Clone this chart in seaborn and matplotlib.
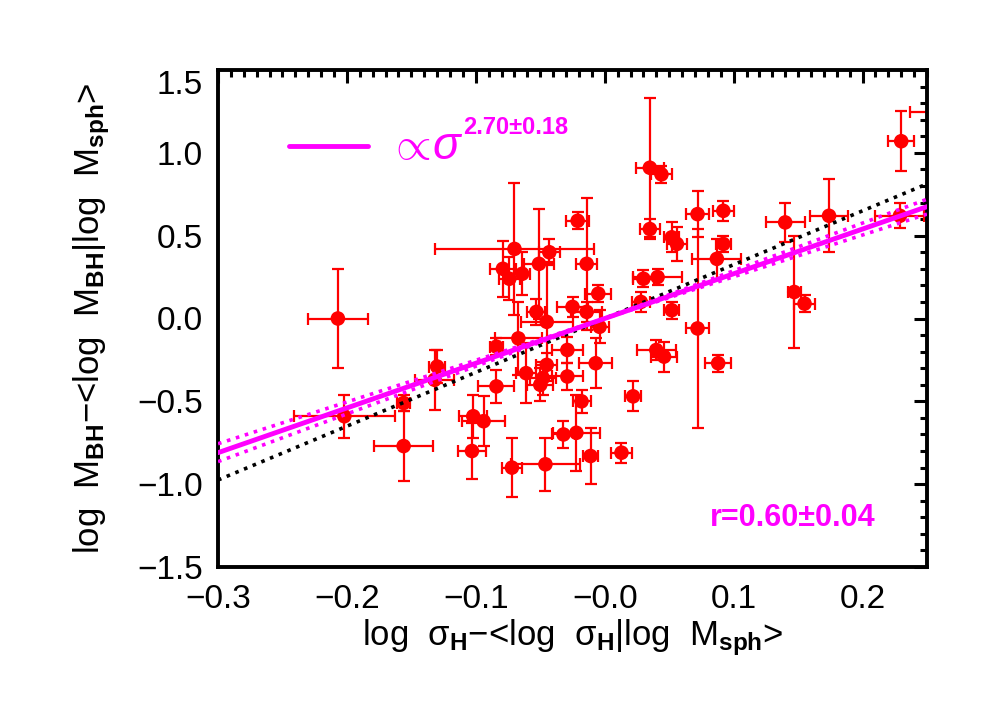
import numpy as np
import pandas as pd
import matplotlib
matplotlib.use("Agg")
import matplotlib.pyplot as plt
import matplotlib.transforms as mtransforms
from matplotlib.ticker import MultipleLocator
import seaborn as sns

# ---- data ----
x_vals = [-0.207, -0.202, -0.156, -0.156, -0.130, -0.132, -0.102, -0.094, -0.103, -0.072,
          -0.046, -0.084, -0.067, -0.079, -0.074, -0.070, -0.043, -0.064, -0.051, -0.053,
          -0.045, -0.045, -0.048, -0.050, -0.061, -0.084, -0.029, -0.029, -0.007, -0.018,
          -0.032, -0.022, -0.011, 0.013, 0.022, 0.040, 0.046, 0.088, 0.072, -0.004,
          -0.025, -0.014, -0.005, -0.014, -0.021, 0.035, 0.044, 0.035, 0.052, 0.056,
          0.072, 0.092, 0.092, 0.087, 0.030, 0.041, 0.028, 0.052, 0.140, 0.174,
          0.147, 0.155, 0.230, 0.229, 0.257]
y_vals = [0.00, -0.59, -0.51, -0.77, -0.29, -0.37, -0.59, -0.62, -0.80, -0.90,
          -0.88, -0.17, -0.12, 0.30, 0.24, 0.42, 0.40, 0.27, 0.33, 0.04,
          -0.02, -0.28, -0.36, -0.40, -0.33, -0.41, -0.19, -0.35, -0.27, -0.50,
          -0.70, -0.69, -0.83, -0.81, -0.47, -0.19, -0.23, -0.27, -0.06, -0.05,
          0.07, 0.04, 0.15, 0.33, 0.59, 0.91, 0.87, 0.54, 0.49, 0.45,
          0.63, 0.65, 0.45, 0.36, 0.24, 0.25, 0.10, 0.05, 0.58, 0.62,
          0.16, 0.09, 1.07, 0.62, 1.245]
x_err = [0.023, 0.039, 0.005, 0.023, 0.006, 0.015, 0.011, 0.017, 0.011, 0.008,
         0.027, 0.005, 0.018, 0.010, 0.008, 0.062, 0.008, 0.006, 0.012, 0.007,
         0.020, 0.008, 0.010, 0.010, 0.008, 0.014, 0.012, 0.012, 0.013, 0.007,
         0.009, 0.018, 0.006, 0.008, 0.006, 0.015, 0.010, 0.010, 0.009, 0.007,
         0.012, 0.012, 0.010, 0.008, 0.009, 0.011, 0.008, 0.008, 0.006, 0.008,
         0.009, 0.008, 0.006, 0.019, 0.008, 0.019, 0.007, 0.006, 0.015, 0.015,
         0.005, 0.008, 0.010, 0.019, 0.020]
y_err = [0.30, 0.13, 0.05, 0.21, 0.10, 0.18, 0.13, 0.15, 0.17, 0.18,
         0.16, 0.05, 0.22, 0.17, 0.13, 0.40, 0.08, 0.13, 0.33, 0.08,
         0.36, 0.07, 0.10, 0.10, 0.18, 0.10, 0.08, 0.08, 0.15, 0.07,
         0.08, 0.23, 0.17, 0.06, 0.09, 0.06, 0.09, 0.05, 0.60, 0.10,
         0.06, 0.06, 0.05, 0.40, 0.05, 0.42, 0.05, 0.06, 0.09, 0.10,
         0.14, 0.06, 0.05, 0.12, 0.05, 0.05, 0.06, 0.05, 0.12, 0.22,
         0.34, 0.05, 0.18, 0.075, 0.10]

fit_slope = 2.70
fit_slope_err = 0.18
alt_slope = 3.25
x_range = [-0.3, 0.25]
y_range = [-1.5, 1.5]
x_ticks = [-0.3, -0.2, -0.1, 0.0, 0.1, 0.2]
x_ticklabels = ["\u22120.3", "\u22120.2", "\u22120.1", "\u22120.0", "0.1", "0.2"]
y_ticks = [1.5, 1.0, 0.5, 0.0, -0.5, -1.0, -1.5]
y_ticklabels = ["1.5", "1.0", "0.5", "0.0", "\u22120.5", "\u22121.0", "\u22121.5"]
legend_exponent = "2.70\u00b10.18"
r_label = "r=0.60\u00b10.04"

df = pd.DataFrame({"x": x_vals, "y": y_vals, "xe": x_err, "ye": y_err})

sns.set_theme(style="white")
plt.rcParams["font.family"] = ["Liberation Sans", "DejaVu Sans"]
plt.rcParams["mathtext.fontset"] = "custom"
plt.rcParams["mathtext.rm"] = "Liberation Sans"
plt.rcParams["mathtext.bf"] = "Liberation Sans:bold"
plt.rcParams["mathtext.it"] = "Liberation Sans:italic"
for k in ["text.color", "axes.labelcolor", "xtick.color", "ytick.color"]:
    plt.rcParams[k] = "black"

fig = plt.figure(figsize=(9.92, 7.08), dpi=100)
ax = fig.add_axes([218 / 992, 1 - 567 / 708, (927 - 218) / 992, (567 - 70) / 708])

red = "#ff0000"
mag = "#ff00ff"

ax.errorbar(df["x"], df["y"], xerr=df["xe"], yerr=df["ye"], fmt="none",
            ecolor=red, elinewidth=1.6, capsize=4.5, capthick=1.6, zorder=2)
sns.scatterplot(data=df, x="x", y="y", ax=ax, color=red, s=110,
                edgecolor="none", linewidth=0, zorder=3, legend=False)

xs = np.array(x_range)
sns.lineplot(x=xs, y=fit_slope * xs, ax=ax, color=mag, lw=3.5, zorder=5)
sns.lineplot(x=xs, y=(fit_slope + fit_slope_err) * xs, ax=ax, color=mag, lw=2.6,
             linestyle=(0, (1, 1.6)), zorder=4)
sns.lineplot(x=xs, y=(fit_slope - fit_slope_err) * xs, ax=ax, color=mag, lw=2.6,
             linestyle=(0, (1, 1.6)), zorder=4)
sns.lineplot(x=xs, y=alt_slope * xs, ax=ax, color="black", lw=2.6,
             linestyle=(0, (1, 1.6)), zorder=4)

ax.set_xlim(*x_range)
ax.set_ylim(*y_range)
ax.set_xticks(x_ticks)
ax.set_xticklabels(x_ticklabels)
ax.set_yticks(y_ticks)
ax.set_yticklabels(y_ticklabels)
ax.xaxis.set_minor_locator(MultipleLocator(0.01))
ax.yaxis.set_minor_locator(MultipleLocator(0.1))
ax.tick_params(which="both", direction="in", top=True, right=True,
               color="black", width=2.2)
ax.tick_params(which="major", length=9.5, labelsize=24)
ax.tick_params(which="minor", length=5)
ax.tick_params(axis="x", which="major", pad=12)
ax.tick_params(axis="y", which="major", pad=11)
for s in ax.spines.values():
    s.set_linewidth(2.8)
    s.set_color("black")

# top y label is drawn slightly lower in the reference
for lab in ax.get_yticklabels():
    if lab.get_text() == "1.5":
        lab.set_transform(lab.get_transform() +
                          mtransforms.ScaledTranslation(0, -12 / 100, fig.dpi_scale_trans))

ax.set_xlabel("log  \u03c3$_\\mathbf{H}$\u2212<log  \u03c3$_\\mathbf{H}$|log  M$_\\mathbf{sph}$>",
              fontsize=25, labelpad=2)
ax.set_ylabel("log  M$_\\mathbf{BH}$\u2212<log  M$_\\mathbf{BH}$|log  M$_\\mathbf{sph}$>",
              fontsize=25, labelpad=18)

# legend-like annotation
leg_x = np.array([-0.245, -0.184])
sns.lineplot(x=leg_x, y=[1.04, 1.04], ax=ax, color=mag, lw=3.5)
ax.text(-0.168, 1.035, "$\\propto\\!\\sigma$", color=mag, fontsize=33,
        va="center", ha="left")
ax.text(-0.110, 1.155, legend_exponent, color=mag, fontsize=17, fontweight="bold",
        va="center", ha="left")
ax.text(0.0815, -1.205, r_label, color=mag, fontsize=22, fontweight="bold",
        va="center", ha="left")

fig.savefig("out.png", dpi=100, facecolor="white")
